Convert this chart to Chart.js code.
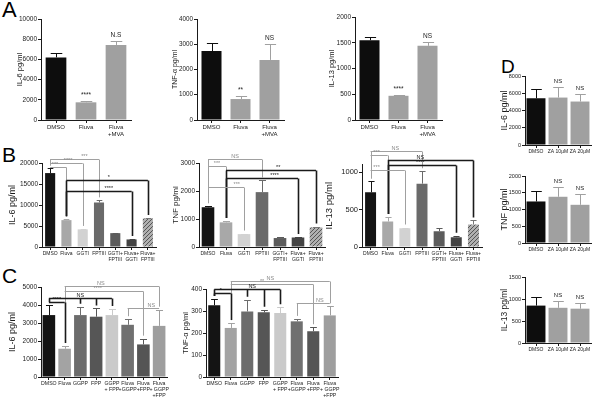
<!DOCTYPE html>
<html>
<head>
<meta charset="utf-8">
<script src="https://cdn.jsdelivr.net/npm/chart.js@4.4.1/dist/chart.umd.min.js"></script>
<style>
html, body { margin: 0; padding: 0; background: #fff; }
#fig { position: relative; width: 600px; height: 403px; overflow: hidden; background: #fff; }
#fig canvas { position: absolute; }
.letter { position: absolute; font-family: 'Liberation Sans', Arial, sans-serif; color: #000; line-height: 1; }
</style>
</head>
<body>
<div id="fig">
  <div class="letter" style="left:2px;top:-1px;font-size:22px">A</div>
  <div class="letter" style="left:2px;top:144px;font-size:21px">B</div>
  <div class="letter" style="left:2px;top:265px;font-size:21px">C</div>
  <div class="letter" style="left:501px;top:57px;font-size:19px">D</div>
</div>
<script>
// ---- panel A ----
const aLabels = ['DMSO', 'Fluva', ['Fluva', '+MVA']];
const aColors = ['#0d0d0d', '#a0a0a0', '#a0a0a0'];
const aIL6 = [6200, 1750, 7430];
const aIL6Err = [470, 160, 390];
const aIL6Sig = ['', '****', 'N.S'];
const aTNF = [2730, 830, 2380];
const aTNFErr = [320, 120, 630];
const aTNFSig = ['', '**', 'NS'];
const aIL13 = [1550, 470, 1440];
const aIL13Err = [60, 15, 75];
const aIL13Sig = ['', '****', 'NS'];

// ---- panel B ----
const bLabels = ['DMSO', 'Fluva', 'GGTI', 'FPTIII', ['GGTI+', 'FPTIII'], ['Fluva+', 'GGTI'], ['Fluva+', 'FPTIII']];
const bIL6 = [17600, 6400, 4200, 10600, 3300, 1800, 6800];
const bIL6Err = [1100, 200, 100, 500, 100, 100, 100];
const bTNF = [1420, 880, 460, 1960, 320, 340, 700];
const bTNFErr = [40, 50, 20, 420, 20, 20, 30];
const bIL13 = [730, 340, 250, 845, 210, 130, 300];
const bIL13Err = [145, 60, 10, 165, 40, 20, 55];
// brackets: a/b = category index, y = height in data units
const bIL6Brackets = [
    {a: 0, b: 3, y: 20950, text: '***', lx: 2.1},
    {a: 0, b: 2, y: 20000, text: '****', lx: 1.1},
    {a: 0, b: 1, y: 19050, text: '***', lx: 0.3},
    {a: 1, b: 6, y: 15950, text: '*', lx: 3.6, dark: true},
    {a: 1, b: 5, y: 13330, text: '****', lx: 3.6, dark: true},
];
const bTNFBrackets = [
    {a: 0, b: 3, y: 3140, text: 'NS', lx: 1.5},
    {a: 0, b: 1, y: 2890, text: '***', lx: 0.5},
    {a: 1, b: 6, y: 2750, text: '**', lx: 3.9, dark: true},
    {a: 1, b: 5, y: 2464, text: '****', lx: 3.7, dark: true},
    {a: 0, b: 2, y: 2143, text: '***', lx: 1.6},
];
const bIL13Brackets = [
    {a: 0, b: 3, y: 1280, text: 'NS', lx: 1.45},
    {a: 0, b: 1, y: 1227, text: '***', lx: 0.35},
    {a: 1, b: 6, y: 1160, text: 'NS', lx: 2.9, dark: true},
    {a: 1, b: 5, y: 1093, text: '****', lx: 2.9, dark: true},
    {a: 0, b: 2, y: 1027, text: '***', lx: 0.35},
];

// ---- panel C ----
const cLabels = ['DMSO', 'Fluva', 'GGPP', 'FPP', ['GGPP', '+ FPP'], ['Fluva', '+GGPP'], ['Fluva', '+FPP'], ['Fluva', '+ GGPP', '+FPP']];
const cColors = ['#141414', '#a3a3a3', '#6c6c6c', '#565656', '#cacaca', '#707070', '#555555', '#9e9e9e'];
const cIL6 = [3440, 1570, 3440, 3350, 3440, 2900, 1810, 2840];
const cIL6Err = [560, 150, 460, 460, 340, 310, 320, 900];
const cTNF = [326, 223, 298, 294, 291, 253, 208, 280];
const cTNFErr = [29, 22, 53, 12, 26, 11, 18, 41];
const cIL6Brackets = [
    {a: 1, b: 7, y: 5055, text: 'NS', lx: 3.3},
    {a: 1, b: 6, y: 4780, text: '****', lx: 3.1},
    {a: 0, b: 4, y: 4390, text: 'NS', lx: 2, dark: true, drops: [0, 2, 3, 4]},
    {a: 0, b: 1, y: 4170, text: '****', lx: 0.5, dark: true},
    {a: 5, b: 7, y: 3850, text: 'NS', lx: 6.5},
];
const cTNFBrackets = [
    {a: 1, b: 7, y: 436, text: 'NS', lx: 3.4},
    {a: 1, b: 6, y: 423, text: '**', lx: 2.9},
    {a: 0, b: 4, y: 400, text: 'NS', lx: 2.3, dark: true, drops: [0, 2, 3, 4]},
    {a: 0, b: 1, y: 382, text: '*', lx: 0.4, dark: true},
    {a: 5, b: 7, y: 336, text: 'NS', lx: 6.4},
];

// ---- panel D ----
const dLabels = ['DMSO', 'ZA 10μM', 'ZA 20μM'];
const dColors = ['#0d0d0d', '#a0a0a0', '#a0a0a0'];
const dSig = ['', 'NS', 'NS'];
const dIL6 = [5420, 5500, 5040];
const dIL6Err = [1040, 1200, 860];
const dTNF = [1240, 1380, 1140];
const dTNFErr = [300, 280, 330];
const dIL13 = [850, 800, 780];
const dIL13Err = [200, 150, 140];

const SANS = "'Liberation Sans', Arial, sans-serif";
Chart.defaults.font.family = SANS;
Chart.defaults.color = '#1a1a1a';

function hatch() {
    const c = document.createElement('canvas');
    c.width = 4; c.height = 4;
    const g = c.getContext('2d');
    g.fillStyle = '#b0b0b0';
    g.fillRect(0, 0, 4, 4);
    g.strokeStyle = '#555';
    g.lineWidth = 1;
    g.beginPath();
    g.moveTo(0, 4); g.lineTo(4, 0);
    g.moveTo(-1, 1); g.lineTo(1, -1);
    g.moveTo(3, 5); g.lineTo(5, 3);
    g.stroke();
    return g.createPattern(c, 'repeat');
}
const stripe = hatch();
const bColors = ['#141414', '#a8a8a8', '#d2d2d2', '#6a6a6a', '#5c5c5c', '#444444', stripe];
const bErrColors = ['#141414', '#a8a8a8', '#d2d2d2', '#6a6a6a', '#5c5c5c', '#444444', '#777777'];

const errorBars = {
    id: 'errorBars',
    afterDatasetsDraw(chart, args, opts) {
        const ctx = chart.ctx;
        const y = chart.scales.y;
        const vals = chart.data.datasets[0].data;
        ctx.save();
        chart.getDatasetMeta(0).data.forEach((bar, i) => {
            const top = Math.round(y.getPixelForValue(vals[i] + opts.errors[i]));
            const half = Math.max(2, bar.width * 0.28);
            const x = Math.round(bar.x) + 0.5;
            ctx.strokeStyle = opts.colors[i];
            ctx.lineWidth = 1;
            ctx.beginPath();
            ctx.moveTo(x, bar.y);
            ctx.lineTo(x, top + 0.5);
            ctx.moveTo(x - half, top + 0.5);
            ctx.lineTo(x + half, top + 0.5);
            ctx.stroke();
            if (opts.stars && opts.stars[i]) {
                ctx.fillStyle = '#222';
                ctx.font = opts.starFont + 'px ' + SANS;
                ctx.textAlign = 'center';
                ctx.textBaseline = 'bottom';
                ctx.fillText(opts.stars[i], bar.x, top - 3);
            }
        });
        ctx.restore();
    }
};

const brackets = {
    id: 'brackets',
    afterDatasetsDraw(chart, args, opts) {
        if (!opts.items) return;
        const ctx = chart.ctx;
        const x = chart.scales.x, y = chart.scales.y;
        const vals = chart.data.datasets[0].data;
        const errs = chart.options.plugins.errorBars.errors;
        ctx.save();
        opts.items.forEach(it => {
            const py = Math.round(y.getPixelForValue(it.y)) + 0.5;
            ctx.strokeStyle = it.dark ? '#1a1a1a' : '#a0a0a0';
            ctx.lineWidth = it.dark ? 1.6 : 1;
            ctx.beginPath();
            ctx.moveTo(x.getPixelForValue(it.a), py);
            ctx.lineTo(x.getPixelForValue(it.b), py);
            (it.drops || [it.a, it.b]).forEach(d => {
                const px = Math.round(x.getPixelForValue(d)) + 0.5;
                const end = y.getPixelForValue(vals[d] + errs[d]) - 3;
                if (end > py) {
                    ctx.moveTo(px, py);
                    ctx.lineTo(px, end);
                }
            });
            ctx.stroke();
            ctx.fillStyle = it.dark ? '#1a1a1a' : '#8a8a8a';
            ctx.font = opts.font + 'px ' + SANS;
            ctx.textAlign = 'center';
            ctx.textBaseline = 'bottom';
            const lx = it.lx !== undefined ? it.lx : (it.a + it.b) / 2;
            ctx.fillText(it.text, x.getPixelForValue(lx), py);
        });
        ctx.restore();
    }
};

// y tick labels, written at the scale's own tick positions
const yTickLabels = {
    id: 'yTickLabels',
    afterDraw(chart, args, opts) {
        const y = chart.scales.y;
        const ctx = chart.ctx;
        ctx.save();
        ctx.globalAlpha = 1;
        ctx.globalCompositeOperation = 'source-over';
        ctx.fillStyle = '#1a1a1a';
        ctx.font = opts.size + 'px ' + SANS;
        ctx.textAlign = 'left';
        ctx.textBaseline = 'middle';
        y.ticks.forEach(t => {
            const s = String(t.value);
            const tw = ctx.measureText(s).width;
            ctx.fillText(s, y.right - 4 - tw, y.getPixelForValue(t.value));
        });
        ctx.restore();
    }
};

const fig = document.getElementById('fig');

function panel(p) {
    const yw = Math.round(p.axisX - p.titleX + p.titleFont * 0.6);
    const left = p.axisX - yw;
    const padRight = p.padRight || 12;
    const w = Math.round(p.right + padRight - left);
    const h = Math.round(p.y0 + p.xh - p.top);
    const canvas = document.createElement('canvas');
    canvas.width = w;
    canvas.height = h;
    canvas.style.left = left + 'px';
    canvas.style.top = p.top + 'px';
    canvas.style.width = w + 'px';
    canvas.style.height = h + 'px';
    fig.appendChild(canvas);

    return new Chart(canvas, {
        type: 'bar',
        data: {
            labels: p.labels,
            datasets: [{
                data: p.values,
                backgroundColor: p.colors,
                borderWidth: 0,
                barPercentage: p.barPct,
                categoryPercentage: 1,
            }]
        },
        options: {
            responsive: false,
            animation: false,
            events: [],
            layout: {padding: {top: p.yTopPx - p.top, right: padRight, left: 0, bottom: 0}},
            plugins: {
                legend: {display: false},
                tooltip: {enabled: false},
                errorBars: {errors: p.errors, colors: p.errColors || p.colors, stars: p.stars, starFont: p.starFont || 6.5},
                brackets: {items: p.brackets, font: p.bracketFont || 6},
                yTickLabels: {size: p.tickFont},
            },
            scales: {
                x: {
                    offset: true,
                    grid: {display: true, drawOnChartArea: false, offset: false, tickLength: 3, color: '#1a1a1a'},
                    border: {display: true, color: '#1a1a1a', width: 1},
                    ticks: {autoSkip: false, maxRotation: 0, minRotation: 0, padding: 1,
                        font: {size: p.xFont, lineHeight: 1.15}, color: '#1a1a1a'},
                    afterFit: s => { s.height = p.xh; },
                },
                y: {
                    min: 0,
                    max: p.yMax,
                    grid: {display: true, drawOnChartArea: false, tickLength: 3, color: '#1a1a1a'},
                    border: {display: true, color: '#1a1a1a', width: 1},
                    ticks: {display: false},
                    title: {display: true, text: p.yTitle, font: {size: p.titleFont}, padding: 0, color: '#1a1a1a'},
                    afterBuildTicks: s => {
                        const ticks = [];
                        for (let v = 0; v <= p.yMax; v += p.step) ticks.push({value: v});
                        s.ticks = ticks;
                    },
                    afterFit: s => { s.width = yw; },
                }
            }
        },
        plugins: [errorBars, brackets, yTickLabels]
    });
}

// A
panel({top: 2, axisX: 41, titleX: 20, titleFont: 7.5, yTopPx: 19, y0: 120, yMax: 10000, step: 2000, right: 131, xh: 22,
    tickFont: 6.5, xFont: 6, barPct: 0.69, labels: aLabels, values: aIL6, errors: aIL6Err, colors: aColors, stars: aIL6Sig, yTitle: 'IL-6 pg/ml'});
panel({top: 2, axisX: 197, titleX: 175, titleFont: 7, yTopPx: 19, y0: 120, yMax: 4000, step: 1000, right: 284, xh: 22,
    tickFont: 6.3, xFont: 6, barPct: 0.69, labels: aLabels, values: aTNF, errors: aTNFErr, colors: aColors, stars: aTNFSig, yTitle: 'TNF-α pg/ml'});
panel({top: 2, axisX: 355, titleX: 332, titleFont: 7.5, yTopPx: 17, y0: 120, yMax: 2000, step: 500, right: 442, xh: 22,
    tickFont: 6.5, xFont: 6, barPct: 0.69, labels: aLabels, values: aIL13, errors: aIL13Err, colors: aColors, stars: aIL13Sig, yTitle: 'IL-13 pg/ml'});

// B
panel({top: 140, axisX: 42, titleX: 12, titleFont: 9, yTopPx: 163, y0: 247, yMax: 20000, step: 5000, right: 156, xh: 20, padRight: 10,
    tickFont: 6.5, xFont: 5, barPct: 0.62, labels: bLabels, values: bIL6, errors: bIL6Err, colors: bColors, errColors: bErrColors,
    brackets: bIL6Brackets, bracketFont: 5.5, yTitle: 'IL-6 pg/ml'});
panel({top: 140, axisX: 199, titleX: 176, titleFont: 8, yTopPx: 163, y0: 247, yMax: 3000, step: 1000, right: 325, xh: 20, padRight: 10,
    tickFont: 6.5, xFont: 5, barPct: 0.7, labels: bLabels, values: bTNF, errors: bTNFErr, colors: bColors, errColors: bErrColors,
    brackets: bTNFBrackets, bracketFont: 5.5, yTitle: 'TNF pg/ml'});
panel({top: 140, axisX: 362, titleX: 330, titleFont: 9.5, yTopPx: 164.5, y0: 247, yMax: 1100, step: 500, right: 482, xh: 20, padRight: 10,
    tickFont: 7.5, xFont: 5, barPct: 0.64, labels: bLabels, values: bIL13, errors: bIL13Err, colors: bColors, errColors: bErrColors,
    brackets: bIL13Brackets, bracketFont: 5.5, yTitle: 'IL-13 pg/ml'});

// C
panel({top: 272, axisX: 41, titleX: 12, titleFont: 9, yTopPx: 287, y0: 377, yMax: 5000, step: 1000, right: 167, xh: 30, padRight: 10,
    tickFont: 6.5, xFont: 5.2, barPct: 0.8, labels: cLabels, values: cIL6, errors: cIL6Err, colors: cColors,
    brackets: cIL6Brackets, bracketFont: 5.5, yTitle: 'IL-6 pg/ml'});
panel({top: 272, axisX: 206, titleX: 186, titleFont: 7.5, yTopPx: 289, y0: 377, yMax: 400, step: 100, right: 338, xh: 30, padRight: 10,
    tickFont: 6.5, xFont: 5.2, barPct: 0.73, labels: cLabels, values: cTNF, errors: cTNFErr, colors: cColors,
    brackets: cTNFBrackets, bracketFont: 5.5, yTitle: 'TNF-α pg/ml'});

// D
panel({top: 74, axisX: 525, titleX: 504, titleFont: 9, yTopPx: 76, y0: 145, yMax: 8000, step: 2000, right: 591, xh: 12, padRight: 8,
    tickFont: 5.5, xFont: 5, barPct: 0.86, labels: dLabels, values: dIL6, errors: dIL6Err, colors: dColors, stars: dSig, starFont: 6, yTitle: 'IL-6 pg/ml'});
panel({top: 165, axisX: 525, titleX: 504, titleFont: 9, yTopPx: 176, y0: 243, yMax: 2000, step: 500, right: 591, xh: 12, padRight: 8,
    tickFont: 5.5, xFont: 5, barPct: 0.86, labels: dLabels, values: dTNF, errors: dTNFErr, colors: dColors, stars: dSig, starFont: 6, yTitle: 'TNF pg/ml'});
panel({top: 265, axisX: 525, titleX: 505, titleFont: 8.5, yTopPx: 277, y0: 343, yMax: 1500, step: 500, right: 591, xh: 12, padRight: 8,
    tickFont: 5.5, xFont: 5, barPct: 0.86, labels: dLabels, values: dIL13, errors: dIL13Err, colors: dColors, stars: dSig, starFont: 6, yTitle: 'IL-13 pg/ml'});
</script>
</body>
</html>
